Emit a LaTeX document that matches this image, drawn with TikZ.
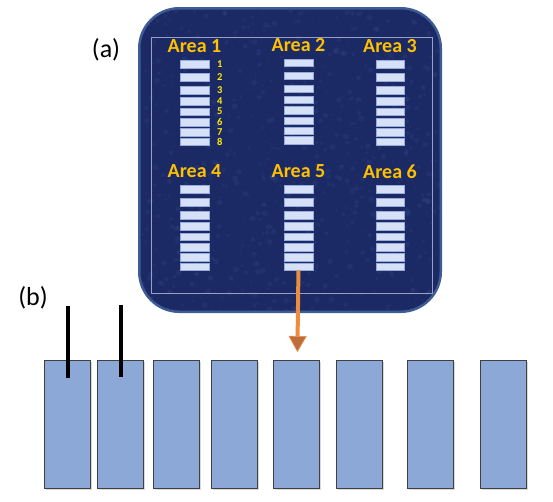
\documentclass[tikz,border=0pt]{standalone}
\usepackage{fontspec}
\setmainfont{Carlito}
\usetikzlibrary{arrows.meta, positioning, shapes, shadows}
\definecolor{panelblue}{RGB}{27,41,100}
\definecolor{mottle}{RGB}{58,78,145}
\definecolor{rimblue}{RGB}{62,92,150}
\definecolor{framegray}{RGB}{150,160,200}
\definecolor{areagold}{RGB}{255,192,0}
\definecolor{numyellow}{RGB}{255,236,0}
\definecolor{stripfill}{RGB}{214,225,248}
\definecolor{stripedge}{RGB}{150,170,220}
\definecolor{cellblue}{RGB}{139,168,215}
\definecolor{arroworange}{RGB}{236,140,62}
\definecolor{arrowbrown}{RGB}{190,110,60}
\tikzset{
		area label/.style={text=areagold, font=\bfseries\fontsize{20}{20}\selectfont},
		num label/.style={text=numyellow, font=\bfseries\fontsize{10.5}{10.5}\selectfont, inner sep=0pt},
		strip/.style={draw=stripedge, fill=stripfill, line width=0.4pt, inner sep=0pt,
			minimum width=28.5pt, minimum height=7.5pt},
		cell/.style={draw=black!75, fill=cellblue, line width=1pt, inner sep=0pt,
			minimum width=46pt, minimum height=128pt,
			drop shadow={shadow xshift=1pt, shadow yshift=-1pt, opacity=0.3}},
		probe/.style={line width=4pt}
	}

\begin{document}
\begin{tikzpicture}[x=1pt, y=-1pt, >=Stealth, node distance=6pt]
	\useasboundingbox (0,0) rectangle (553,501);

	% panel (a): six areas of eight strips
	\node[draw=rimblue, fill=panelblue, line width=2.5pt, rounded corners=40pt,
		minimum width=301.5pt, minimum height=303.5pt] (panel) at (290,160) {};
	\begin{scope}
		\clip[rounded corners=38pt] (139.5,8.5) rectangle (440.5,311.5);
		\pgfmathsetseed{7}
		\foreach \i in {1,...,700}
			\fill[mottle, opacity=0.22] (140+300*rnd,9+302*rnd) circle (0.8+2.2*rnd);
	\end{scope}
	\draw[framegray, line width=0.6pt] (151,37) rectangle (432,293);
	\node[font=\fontsize{26}{26}\selectfont] (a) at (106,50) {(a)};

	\foreach \col/\x/\y in {1/194.5/64, 2/298.5/62.5, 3/390/64, 4/194.5/189, 5/298.5/189, 6/390/189} {
		\foreach \k/\dy in {1/0, 2/13, 3/26, 4/37, 5/47.5, 6/58, 7/68, 8/77.5}
			\node[strip] (s\col-\k) at (\x,\y+\dy) {};
		\node[area label] (t\col) at ([yshift=17.5pt]s\col-1.center) {Area \col};
	}
	\foreach \k in {1,...,8}
		\node[num label, right=8pt of s1-\k] (n\k) {\k};

	% panel (b): eight cells
	\node[font=\fontsize{26}{26}\selectfont] (b) at (33,298) {(b)};
	\node[cell]                     (c1) at (67.5,424.5) {};
	\node[cell, right=6pt of c1]    (c2) {};
	\node[cell, right=9pt of c2]    (c3) {};
	\node[cell, right=11pt of c3]   (c4) {};
	\node[cell, right=15pt of c4]   (c5) {};
	\node[cell, right=16pt of c5]   (c6) {};
	\node[cell, right=24pt of c6]   (c7) {};
	\node[cell, right=26pt of c7]   (c8) {};

	\draw[probe] ([yshift=54.5pt]c1.north) -- ([yshift=-17.5pt]c1.north);
	\draw[probe] ([yshift=55.5pt]c2.north) -- ([yshift=-16.5pt]c2.north);

	\draw[-{Triangle[width=18pt 0 0,length=16pt 0 0,line width=0.6pt,fill=arrowbrown]}, draw=arroworange,
		line width=4pt, shorten >=8pt] (s5-8) -- (c5);
\end{tikzpicture}
\end{document}
